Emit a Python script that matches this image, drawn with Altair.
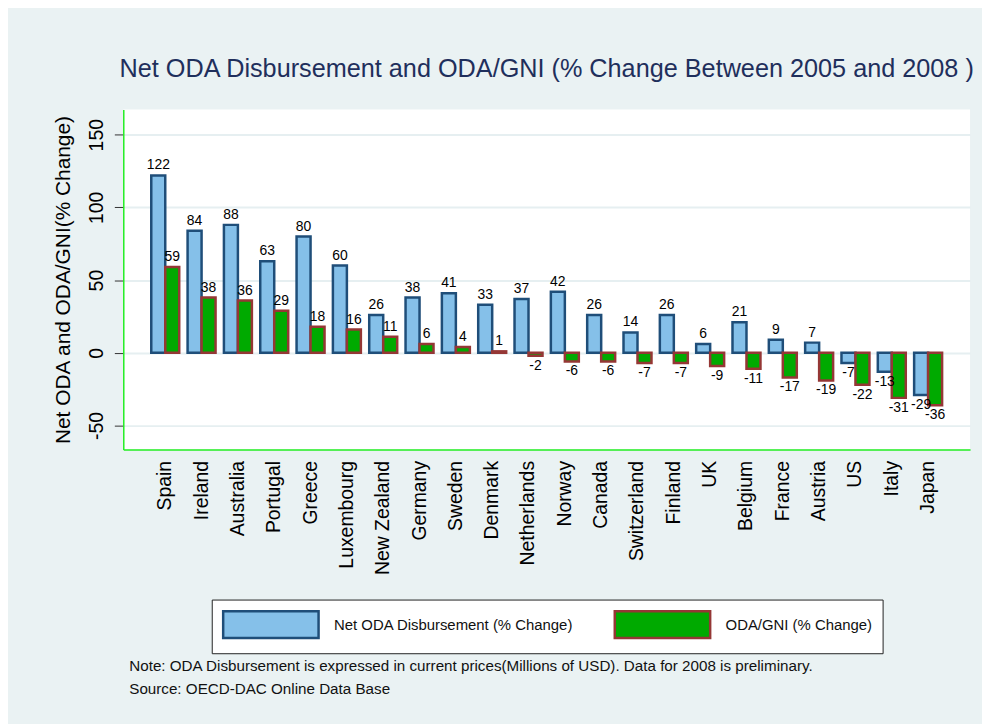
import altair as alt
import pandas as pd

countries = ["Spain", "Ireland", "Australia", "Portugal", "Greece", "Luxembourg",
             "New Zealand", "Germany", "Sweden", "Denmark", "Netherlands", "Norway",
             "Canada", "Switzerland", "Finland", "UK", "Belgium", "France", "Austria",
             "US", "Italy", "Japan"]
net_oda = [122, 84, 88, 63, 80, 60, 26, 38, 41, 33, 37, 42, 26, 14, 26, 6, 21, 9, 7, -7, -13, -29]
oda_gni = [59, 38, 36, 29, 18, 16, 11, 6, 4, 1, -2, -6, -6, -7, -7, -9, -11, -17, -19, -22, -31, -36]
series_names = ["Net ODA Disbursement (% Change)", "ODA/GNI (% Change)"]
y_ticks = [-50, 0, 50, 100, 150]
title_text = "Net ODA Disbursement and ODA/GNI (% Change Between 2005 and 2008 )"
note_text = "Note: ODA Disbursement is expressed in current prices(Millions of USD). Data for 2008 is preliminary."
source_text = "Source: OECD-DAC Online Data Base"

rows = []
for c, a, b in zip(countries, net_oda, oda_gni):
    rows.append({"country": c, "series": series_names[0], "value": a})
    rows.append({"country": c, "series": series_names[1], "value": b})
df = pd.DataFrame(rows)

FONT = "Liberation Sans"
fill_scale = alt.Scale(domain=series_names, range=["#85C0E9", "#00AA00"])
stroke_scale = alt.Scale(domain=series_names, range=["#1F4E79", "#953735"])

legend = alt.Legend(
    title=None, orient="none", legendX=89, legendY=493, direction="horizontal",
    symbolType="M-1,-1 L6.11,-1 L6.11,1 L-1,1 Z", symbolSize=729,
    symbolStrokeWidth=2.5, labelFontSize=15, labelFont=FONT, labelColor="#111111",
    labelOffset=83, columnPadding=36, padding=10, strokeColor="#222222",
    fillColor="white", labelLimit=400, symbolOpacity=1,
)

x_enc = alt.X("country:N", sort=countries,
              scale=alt.Scale(paddingInner=0.23, paddingOuter=0.77),
              axis=alt.Axis(title=None, labelAngle=-90, labelFontSize=19.5, labelFont=FONT,
                            labelColor="#000000", ticks=False, labelPadding=11,
                            domainColor="#22EE22", domainWidth=1.5, grid=False))
y_scale = alt.Scale(domain=[-66.5, 167.3], nice=False, zero=False)
xoff = alt.XOffset("series:N", scale=alt.Scale(domain=series_names, paddingInner=0, paddingOuter=0))

bars = alt.Chart(df).mark_bar(strokeWidth=2.5, strokeJoin="miter").encode(
    x=x_enc,
    xOffset=xoff,
    y=alt.Y("value:Q", scale=y_scale,
            axis=alt.Axis(values=y_ticks, title="Net ODA and ODA/GNI(% Change)",
                          labelExpr="'' + datum.value",
                          titleFontSize=21, titleFont=FONT, titleFontWeight="normal",
                          titleColor="#000000", titleAngle=270, titleX=-54, titleY=171,
                          titleBaseline="alphabetic", titleAlign="center",
                          labelAngle=270, labelFontSize=19.5, labelFont=FONT,
                          labelColor="#000000", labelBaseline="alphabetic", labelAlign="center",
                          labelPadding=12, tickSize=9, tickColor="#333333", tickWidth=1,
                          domainColor="#22EE22", domainWidth=1.5,
                          grid=True, gridColor="#E6EFF1", gridWidth=2)),
    y2=alt.datum(0),
    fill=alt.Fill("series:N", scale=fill_scale, legend=legend),
    stroke=alt.Stroke("series:N", scale=stroke_scale, legend=legend),
)

base_text = alt.Chart(df).transform_calculate(lab="'' + datum.value")

pos_labels = base_text.transform_filter("datum.value >= 0").mark_text(
    baseline="bottom", dy=-3, fontSize=14, font=FONT, color="#000000"
).encode(x=alt.X("country:N", sort=countries), xOffset=xoff, y=alt.Y("value:Q"),
         text=alt.Text("lab:N"))

neg_labels = base_text.transform_filter("datum.value < 0").mark_text(
    baseline="top", dy=3, fontSize=14, font=FONT, color="#000000"
).encode(x=alt.X("country:N", sort=countries), xOffset=xoff, y=alt.Y("value:Q"),
         text=alt.Text("lab:N"))

note = alt.Chart(pd.DataFrame({"t": [note_text]})).mark_text(
    align="left", baseline="alphabetic", fontSize=15.3, font=FONT, color="#111111"
).encode(x=alt.value(6), y=alt.value(565), text="t:N")
source = alt.Chart(pd.DataFrame({"t": [source_text]})).mark_text(
    align="left", baseline="alphabetic", fontSize=15.3, font=FONT, color="#111111"
).encode(x=alt.value(6), y=alt.value(588), text="t:N")

chart = alt.layer(bars, pos_labels, neg_labels, note, source).properties(
    width=852, height=342,
    autosize=alt.AutoSizeParams(type="none"),
    padding={"left": 116, "top": 100, "right": 12, "bottom": 274},
    background="#EAF2F3",
    title=alt.TitleParams(title_text, fontSize=25.4, font=FONT, color="#1F2F5C",
                          fontWeight="normal", anchor="middle", frame="group",
                          baseline="alphabetic", offset=7),
).configure_view(fill="white", strokeWidth=0)

chart.save("out.html", embed_options={"renderer": "svg", "actions": False})
